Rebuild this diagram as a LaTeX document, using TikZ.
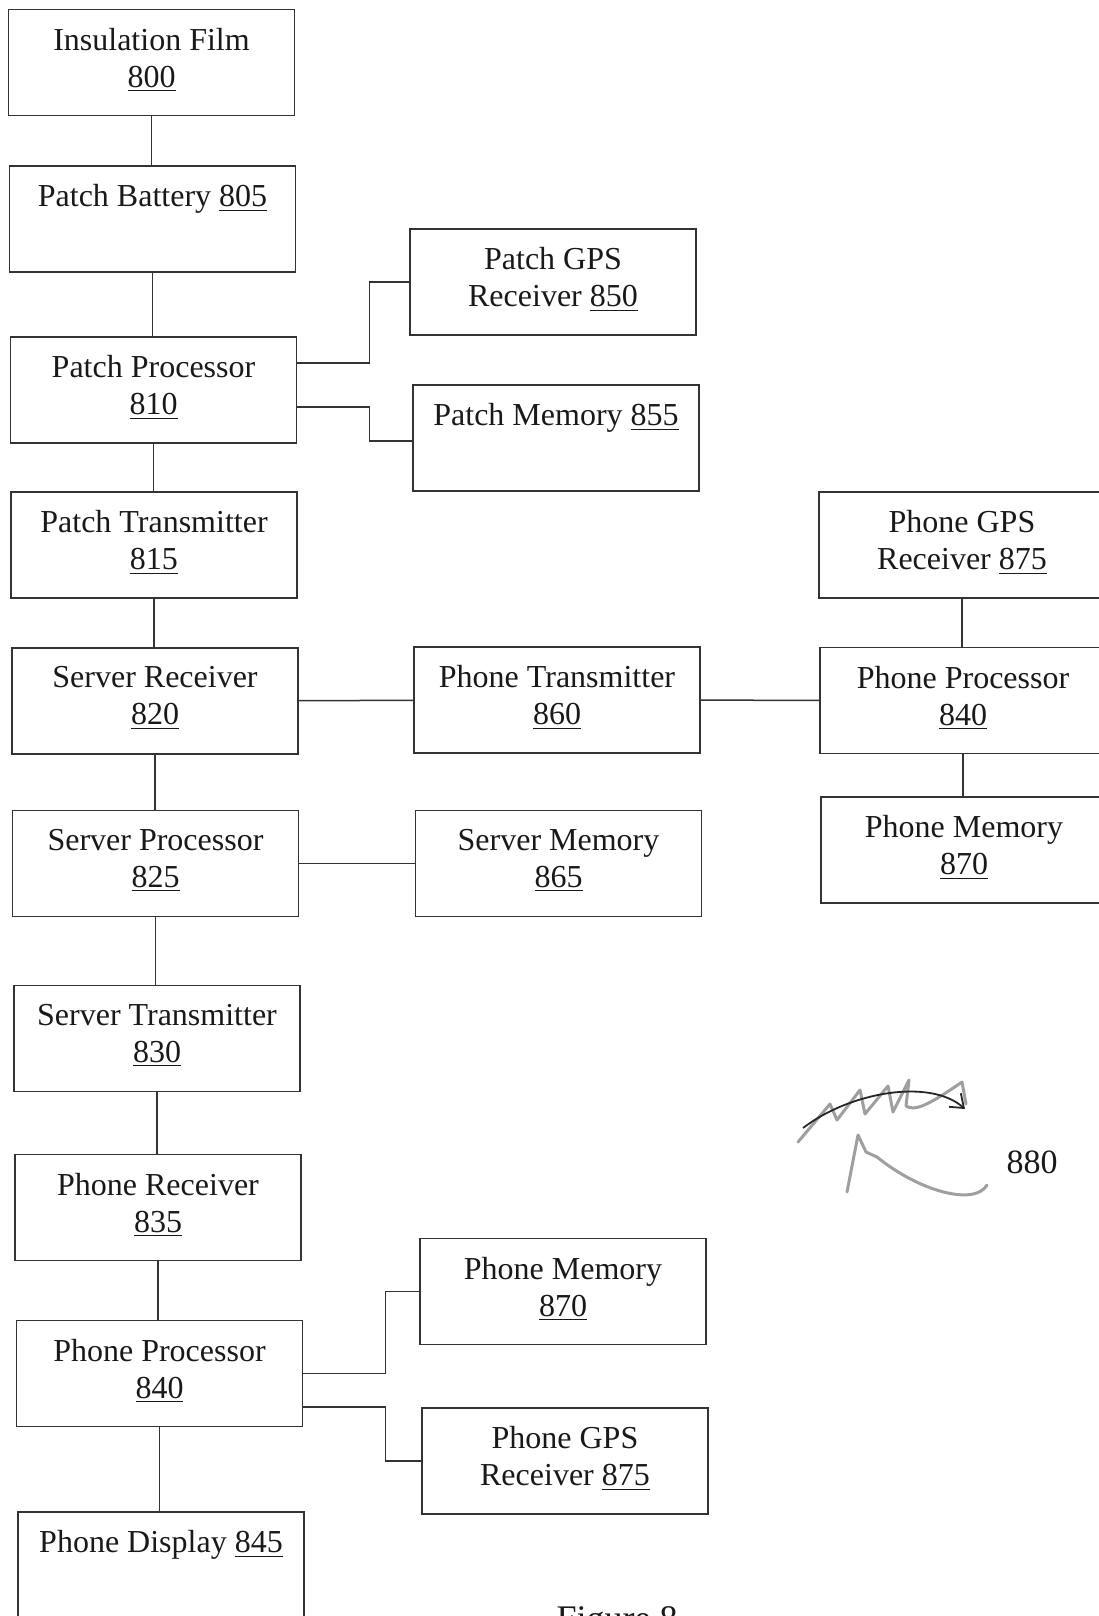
\documentclass[tikz,border=0pt]{standalone}
\usepackage{fontspec}
\setmainfont{Liberation Serif}
\usetikzlibrary{arrows.meta,positioning}

\begin{document}
\begin{tikzpicture}[x=0.5pt, y=-0.5pt,
  blk/.style={draw=black!80, line width=0.75pt, minimum width=143pt, minimum height=53pt, inner sep=0pt},
  lbl/.style={anchor=north, align=center, inner sep=0pt, yshift=-9.5pt, text=black!90, font=\fontsize{16}{18.5}\selectfont},
  wire/.style={draw=black!80, line width=0.75pt},
  scrawl/.style={draw=gray!75, line width=1.5pt, line cap=round, line join=round}]
  \useasboundingbox (0,0) rectangle (1098,1616);

  % boxes, placed at their centres (pixel grid of the sheet)
  \foreach \nm/\x/\y/\txt in {
      film/151.5/62.5/{Insulation Film\\\underline{800}},
      battery/152.5/219/{Patch Battery \underline{805}},
      pproc/153.5/390/{Patch Processor\\\underline{810}},
      pgps/553/282/{Patch GPS\\Receiver \underline{850}},
      pmem/556/438/{Patch Memory \underline{855}},
      ptx/154/545/{Patch Transmitter\\\underline{815}},
      srx/155/701/{Server Receiver\\\underline{820}},
      phtx/557/700/{Phone Transmitter\\\underline{860}},
      gpsR/962/545/{Phone GPS\\Receiver \underline{875}},
      procR/963/700.5/{Phone Processor\\\underline{840}},
      memR/964/850/{Phone Memory\\\underline{870}},
      sproc/155.5/863.5/{Server Processor\\\underline{825}},
      smem/558.5/863.5/{Server Memory\\\underline{865}},
      stx/157/1038.5/{Server Transmitter\\\underline{830}},
      phrx/158/1207.5/{Phone Receiver\\\underline{835}},
      memL/563/1291.5/{Phone Memory\\\underline{870}},
      procL/159.5/1373.5/{Phone Processor\\\underline{840}},
      gpsL/565/1461/{Phone GPS\\Receiver \underline{875}},
      display/161/1565/{Phone Display \underline{845}}} {
    \node[blk] (\nm) at (\x,\y) {};
    \node[lbl] (t\nm) at (\nm.north) {\txt};
  }

  % main column
  \foreach \a/\b in {film/battery, battery/pproc, pproc/ptx, ptx/srx, srx/sproc,
                     sproc/stx, stx/phrx, phrx/procL, procL/display, gpsR/procR, procR/memR}
    \draw[wire] (\a.south) -- (\a.south |- \b.north);
  \draw[wire] (srx) -- (phtx);
  \draw[wire] (phtx) -- (procR);
  \draw[wire] (sproc) -- (smem);

  % elbows
  \draw[wire] ([yshift=13.5pt]pproc.east) -- ++(72,0) |- (pgps.west);
  \draw[wire] ([yshift=-8.5pt]pproc.east) -- ++(72,0) |- ([yshift=-1.5pt]pmem.west);
  \draw[wire] (procL.east) -- ++(82,0) |- (memL.west);
  \draw[wire] ([yshift=-16.75pt]procL.east) -- ++(82,0) |- (gpsL.west);

  % hand mark 880
  \draw[scrawl] (798,1142) -- (830,1104) -- (837,1120) -- (860,1090) -- (865,1114)
    -- (888,1086) -- (893,1112) -- (909,1080) -- (906,1106) .. controls (915,1112) and (930,1104) .. (962,1082) -- (966,1104);
  \draw[black!85, line width=0.9pt, -{Straight Barb[length=6pt,width=9pt]}]
    (803,1128) .. controls (850,1092) and (930,1078) .. (965,1109);
  \draw[scrawl] (847,1192) -- (858,1135) -- (866,1152) -- (877,1157)
    .. controls (920,1192) and (975,1206) .. (987,1185);
  \node[text=black!90, font=\fontsize{17}{20}\selectfont] (ref880) at (1032,1162) {880};

  \node[anchor=north, text=black!90, font=\fontsize{18}{21}\selectfont] (fig) at (617,1599) {Figure 8};
\end{tikzpicture}
\end{document}
